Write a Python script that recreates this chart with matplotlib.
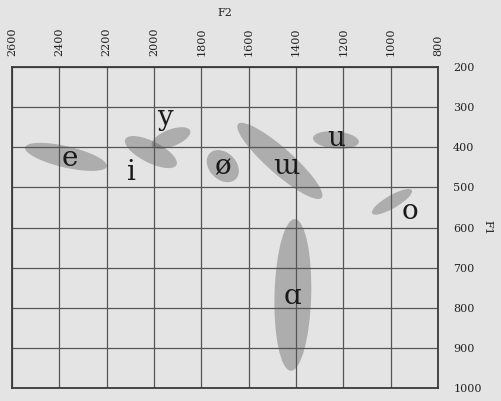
import numpy as np
import matplotlib
matplotlib.use("Agg")
import matplotlib.pyplot as plt
from matplotlib.patches import Ellipse

# vowel formant ellipses: mean F2, mean F1, half-spread F2, half-spread F1, correlation
vowels = ["e", "i", "y", "ø", "ɯ", "u", "o", "ɑ"]
f2_mean = [2372, 2013, 1928, 1709, 1468, 1231, 994, 1413]
f1_mean = [424, 412, 377, 447, 434, 382, 536, 768]
f2_spread = [173, 110, 82, 68, 180, 97, 85, 78]
f1_spread = [35, 40, 27, 40, 95, 22, 32, 189]
rho = [-0.63, -0.68, 0.56, -0.3, -0.9, -0.2, 0.82, 0.1]

# where the vowel symbols are written
label_f2 = [2355, 2097, 1954, 1709, 1442, 1231, 918, 1413]
label_f1 = [427, 462, 325, 447, 447, 377, 561, 771]

f2_ticks = [2600, 2400, 2200, 2000, 1800, 1600, 1400, 1200, 1000, 800]
f1_ticks = [200, 300, 400, 500, 600, 700, 800, 900, 1000]

bg = "#e4e4e4"
plt.rcParams["font.family"] = ["DejaVu Serif"]

fig = plt.figure(figsize=(5.01, 4.01), dpi=100, facecolor=bg)
ax = fig.add_axes([0.024, 0.0324, 0.85, 0.8005], facecolor=bg)

for i in range(len(vowels)):
    sx, sy = f2_spread[i], f1_spread[i]
    cov = np.array([[sx ** 2, rho[i] * sx * sy], [rho[i] * sx * sy, sy ** 2]])
    vals, vecs = np.linalg.eigh(cov)
    angle = np.degrees(np.arctan2(vecs[1, 1], vecs[0, 1]))
    ell = Ellipse((f2_mean[i], f1_mean[i]), 2 * np.sqrt(vals[1]), 2 * np.sqrt(vals[0]),
                  angle=angle, facecolor="#555555", alpha=0.38, edgecolor="none", zorder=2)
    ax.add_patch(ell)
    ax.text(label_f2[i], label_f1[i], vowels[i], fontsize=20, color="#1a1a1a",
            ha="center", va="center", zorder=3)

ax.set_xlim(2600, 800)
ax.set_ylim(1000, 200)
ax.set_xticks(f2_ticks)
ax.set_yticks(f1_ticks)
ax.xaxis.tick_top()
ax.yaxis.tick_right()
ax.xaxis.set_label_position("top")
ax.yaxis.set_label_position("right")
ax.tick_params(axis="x", length=0, pad=8, labelsize=8, labelrotation=90, colors="#222222")
ax.tick_params(axis="y", length=0, pad=11, labelsize=8, colors="#222222")
for lab in ax.get_yticklabels():
    lab.set_horizontalalignment("left")
ax.set_xlabel("F2", fontsize=8, color="#222222", labelpad=8)
ax.set_ylabel("F1", fontsize=8, color="#222222", rotation=-90, va="center", ha="center")
ax.yaxis.set_label_coords(1.117, 0.5)

ax.grid(True, color="#555555", linewidth=0.9, zorder=1)
ax.set_axisbelow(True)
for sp in ax.spines.values():
    sp.set_color("#3a3a3a")
    sp.set_linewidth(1.3)

fig.savefig("out.png", dpi=100, facecolor=bg)
